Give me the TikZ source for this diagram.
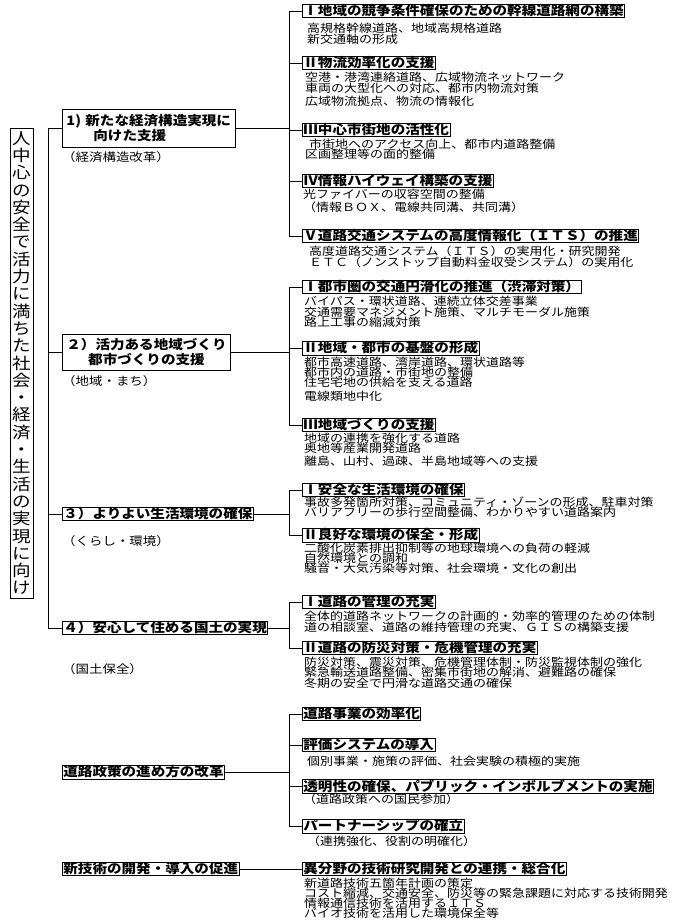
\documentclass[tikz,border=0pt]{standalone}
\usepackage{fontspec}
\usepackage{tikz}
\newfontfamily\jfont[FakeStretch=1.16]{Noto Sans CJK JP}
\newfontfamily\jhead[FakeStretch=1.12]{Noto Sans CJK JP}
\tikzset{
  hd/.style   = {draw, line width=0.8pt, inner xsep=1pt, inner ysep=0.6pt, anchor=west,
                 font=\jhead\bfseries\fontsize{13}{15}\selectfont},
  grp/.style  = {hd, inner xsep=4pt},
  sub/.style  = {inner sep=0pt, anchor=west, text height=8.3pt, text depth=0.9pt,
                 font=\jfont\fontsize{11.2}{11}\selectfont},
  note/.style = {sub, font=\jfont\fontsize{11.6}{12}\selectfont},
  wire/.style = {line width=0.8pt},
}

\begin{document}
\begin{tikzpicture}[x=1pt, y=-1pt]
  \useasboundingbox (0,0) rectangle (674,924);

  \node[draw, line width=0.8pt, minimum width=23pt, minimum height=470pt, inner sep=0pt,
        align=center, font=\jfont\fontsize{16}{17.3}\selectfont] (ttl) at (21.5,363)
    {人\\中\\心\\の\\安\\全\\で\\活\\力\\に\\満\\ち\\た\\社\\会\\・\\経\\済\\・\\生\\活\\の\\実\\現\\に\\向\\け};

  \coordinate (trunk) at (48,0);
  \coordinate (bus) at (289,0);

  \node[grp, minimum height=38pt, align=left] (g1) at (62,128)
    {1)\,\,新たな経済構造実現に\\[0pt]\hspace{27pt}向けた支援};
  \node[grp, minimum height=36pt, align=center] (g2) at (62,352)
    {２）活力ある地域づくり\\都市づくりの支援};
  \node[hd] (g3) at (62,514) {３）よりよい生活環境の確保};
  \node[hd] (g4) at (62,628) {４）安心して住める国土の実現};
  \node[hd] (g5) at (62,772) {道路政策の進め方の改革};
  \node[hd] (g6) at (62,869) {新技術の開発・導入の促進};

  \node[note] (n1) at (62,158) {（経済構造改革）};
  \node[note] (n2) at (62,382) {（地域・まち）};
  \node[note] (n3) at (62,542) {（くらし・環境）};
  \node[note] (n4) at (62,670) {（国土保全）};

  \draw[wire] (g1.west) -- (g1.west -| trunk) -- (g4.west -| trunk) -- (g4.west);
  \draw[wire] (g2.west) -- (g2.west -| trunk);
  \draw[wire] (g3.west) -- (g3.west -| trunk);

  % 1) keizai kouzou
  \node[hd] (h11) at (302,11) {Ⅰ地域の競争条件確保のための幹線道路網の構築};
  \node[hd] (h12) at (302,63) {Ⅱ物流効率化の支援};
  \node[hd] (h13) at (302,130) {Ⅲ中心市街地の活性化};
  \node[hd] (h14) at (302,181) {Ⅳ情報ハイウェイ構築の支援};
  \node[hd] (h15) at (302,236) {Ⅴ道路交通システムの高度情報化（ＩＴＳ）の推進};
  \foreach \i/\x/\y/\lab in {1/307/29/{高規格幹線道路、地域高規格道路}, 2/307/40/{新交通軸の形成},
      3/305/78/{空港・港湾連絡道路、広域物流ネットワーク}, 4/305/89/{車両の大型化への対応、都市内物流対策},
      5/305/102/{広域物流拠点、物流の情報化}, 6/309/145/{市街地へのアクセス向上、都市内道路整備},
      7/305/155/{区画整理等の面的整備}, 8/303/195/{光ファイバーの収容空間の整備},
      9/303/208/{（情報ＢＯＸ、電線共同溝、共同溝）}, 10/309/252/{高度道路交通システム（ＩＴＳ）の実用化・研究開発},
      11/309/263/{ＥＴＣ（ノンストップ自動料金収受システム）の実用化}}
    \node[sub] (a\i) at (\x,\y) {\lab};
  \draw[wire] (g1.east) -- (g1.east -| bus);
  \draw[wire] (h11.west) -- (h11.west -| bus) -- (h15.west -| bus) -- (h15.west);
  \foreach \i in {2,3,4} \draw[wire] (h1\i.west) -- (h1\i.west -| bus);

  % 2) chiiki machi
  \node[hd] (h21) at (302,287) {Ⅰ都市圏の交通円滑化の推進（渋滞対策）};
  \node[hd] (h22) at (302,348) {Ⅱ地域・都市の基盤の形成};
  \node[hd] (h23) at (302,425) {Ⅲ地域づくりの支援};
  \foreach \i/\y/\lab in {1/302/{バイパス・環状道路、連続立体交差事業}, 2/313/{交通需要マネジメント施策、マルチモーダル施策},
      3/323/{路上工事の縮減対策}, 4/363/{都市高速道路、湾岸道路、環状道路等},
      5/373/{都市内の道路・市街地の整備}, 6/383/{住宅宅地の供給を支える道路}, 7/397/{電線類地中化},
      8/439/{地域の連携を強化する道路}, 9/449/{奥地等産業開発道路}, 10/462/{離島、山村、過疎、半島地域等への支援}}
    \node[sub] (b\i) at (304,\y) {\lab};
  \draw[wire] (g2.east) -- (g2.east -| bus);
  \draw[wire] (h21.west) -- (h21.west -| bus) -- (h23.west -| bus) -- (h23.west);
  \draw[wire] (h22.west) -- (h22.west -| bus);

  % 3) kurashi kankyou
  \node[hd] (h31) at (302,490) {Ⅰ安全な生活環境の確保};
  \node[hd] (h32) at (302,535) {Ⅱ良好な環境の保全・形成};
  \foreach \i/\y/\lab in {1/503/{事故多発箇所対策、コミュニティ・ゾーンの形成、駐車対策},
      2/513/{バリアフリーの歩行空間整備、わかりやすい道路案内}, 3/549/{二酸化炭素排出抑制等の地球環境への負荷の軽減},
      4/559/{自然環境との調和}, 5/569/{騒音・大気汚染等対策、社会環境・文化の創出}}
    \node[sub] (c\i) at (304,\y) {\lab};
  \draw[wire] (g3.east) -- (g3.east -| bus);
  \draw[wire] (h31.west) -- (h31.west -| bus) -- (h32.west -| bus) -- (h32.west);

  % 4) kokudo hozen
  \node[hd] (h41) at (302,602) {Ⅰ道路の管理の充実};
  \node[hd] (h42) at (302,648) {Ⅱ道路の防災対策・危機管理の充実};
  \foreach \i/\y/\lab in {1/617/{全体的道路ネットワークの計画的・効率的管理のための体制},
      2/628/{道の相談室、道路の維持管理の充実、ＧＩＳの構築支援}, 3/663/{防災対策、震災対策、危機管理体制・防災監視体制の強化},
      4/673/{緊急輸送道路整備、密集市街地の解消、避難路の確保}, 5/684/{冬期の安全で円滑な道路交通の確保}}
    \node[sub] (d\i) at (304,\y) {\lab};
  \draw[wire] (g4.east) -- (g4.east -| bus);
  \draw[wire] (h41.west) -- (h41.west -| bus) -- (h42.west -| bus) -- (h42.west);

  % susumekata
  \node[hd] (h51) at (302,714) {道路事業の効率化};
  \node[hd] (h52) at (302,745) {評価システムの導入};
  \node[hd] (h53) at (302,786) {透明性の確保、パブリック・インボルブメントの実施};
  \node[hd] (h54) at (302,826) {パートナーシップの確立};
  \foreach \i/\x/\y/\lab in {1/307/762/{個別事業・施策の評価、社会実験の積極的実施},
      2/303/800/{（道路政策への国民参加）}, 3/307/842/{（連携強化、役割の明確化）}}
    \node[sub] (e\i) at (\x,\y) {\lab};
  \draw[wire] (g5.east) -- (g5.east -| bus);
  \draw[wire] (h51.west) -- (h51.west -| bus) -- (h54.west -| bus) -- (h54.west);
  \foreach \i in {2,3} \draw[wire] (h5\i.west) -- (h5\i.west -| bus);

  % shin gijutsu
  \node[hd] (h61) at (302,869) {異分野の技術研究開発との連携・総合化};
  \foreach \i/\y/\lab in {1/884/{新道路技術五箇年計画の策定}, 2/894/{コスト縮減、交通安全、防災等の緊急課題に対応する技術開発},
      3/904/{情報通信技術を活用するＩＴＳ}, 4/914/{バイオ技術を活用した環境保全等}}
    \node[sub] (f\i) at (304,\y) {\lab};
  \draw[wire] (g6.east) -- (h61.west);
\end{tikzpicture}
\end{document}
